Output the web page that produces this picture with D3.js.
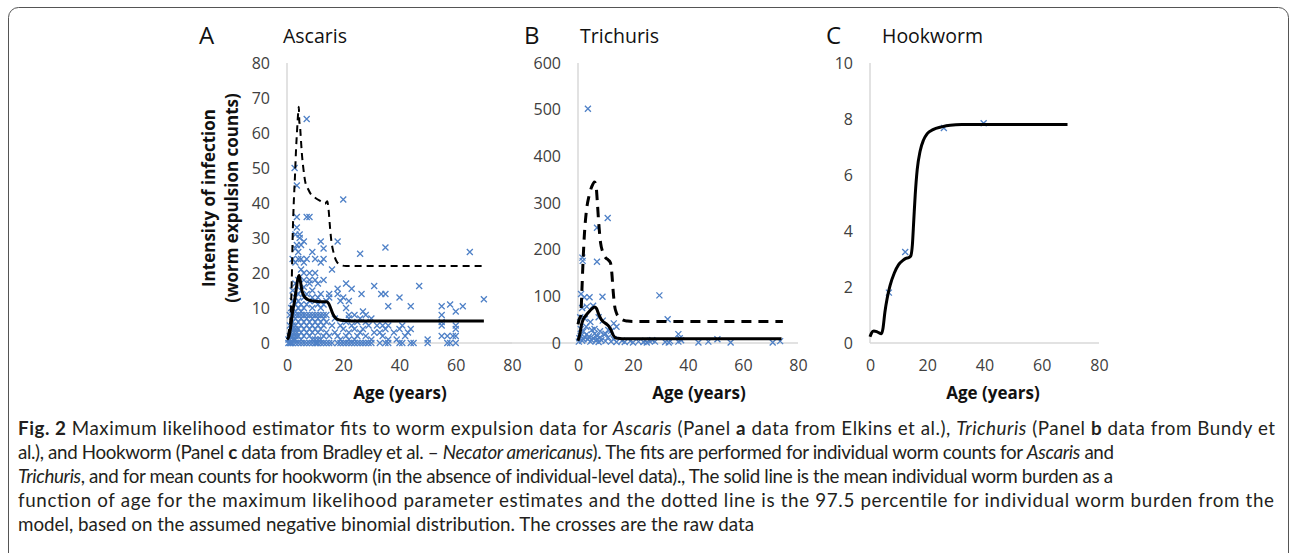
<!DOCTYPE html>
<html><head><meta charset="utf-8">
<script src="https://cdn.jsdelivr.net/npm/d3@7"></script>
<style>body{margin:0;background:#fff} svg{display:block}</style></head>
<body><svg id="c" width="1293" height="553"></svg>
<script>
// ---------- DATA ----------
const xTicks = [0, 20, 40, 60, 80];
const ascarisYTicks = [0, 10, 20, 30, 40, 50, 60, 70, 80];
const trichurisYTicks = [0, 100, 200, 300, 400, 500, 600];
const hookwormYTicks = [0, 2, 4, 6, 8, 10];

// raw data [age, worm count]
const ascarisPoints = [
 [0.5,0],[1,0],[1.5,0],[2,0],[3,0],[4,0],[5,0],[6,0],[7,0],[8,0],[9,0],[10,0],[10.5,0],[11,0],[12,0],[13,0],[14,0],[15,0],[16,0],[18,0],[19,0],[20,0],[21,0],[22,0],[23,0],[24,0],[25,0],[26,0],[27,0],[28,0],[29,0],[30,0],[33,0],[35,0],[36,0],[40,0],[41,0],[44,0],[45,0],[50,0],[57,0],[58,0],[60,0],
 [0.5,1],[1,1],[2,1],[2.5,1],[3,1],[5,1],[9,1],[10,1],[11,1],[12,1],[19,1],[22,1],[24,1],[30,1],[36,1],[39,1],[50,1],
 [1,2],[2,2],[3,2],[4,2],[6,2],[8,2],[13,2],[15,2],[18,2],[21,2],[25,2],[28,2],[34,2],[42,2],[55,2],[57,2],[59,2],[60,2],
 [1.5,3],[2.5,3],[3.5,3],[5,3],[7,3],[9,3],[11,3],[14,3],[17,3],[22,3],[26,3],[31,3],[33,3],[38,3],[43,3],
 [2,4],[3,4],[4,4],[6,4],[8,4],[10,4],[12,4],[20,4],[24,4],[27,4],[35,4],[40,4],[44,4],[60,4],
 [1,5],[2,5],[3,5],[5,5],[7,5],[9,5],[11,5],[13,5],[16,5],[19,5],[23,5],[29,5],[32,5],[34,5],[36,5],[41,5],[55,5],[60,5],
 [2,6],[4,6],[6,6],[8,6],[10,6],[12,6],[14,6],[21,6],[25,6],[28,6],[55,6],
 [3,7],[5,7],[7,7],[9,7],[11,7],[13,7],[17,7],[22,7],[26,7],[30,7],
 [1,8],[2,8],[3,8],[4,8],[5,8],[6,8],[7,8],[8,8],[9,8],[10,8],[11,8],[12,8],[13,8],[14,8],[22,8],[24,8],[28,8],[55,8],
 [3,9],[5,9],[27,9],[60,9],
 [1.5,10],[2,10],[4,10],[6,10],[9,10],[12,10],[21,10],[36,10.5],[44,10.5],[55,10.5],[62.5,10.5],
 [3,11],[5,11],[7,11],[11,11],[13,11],[58,11],
 [2,12],[4,12],[8,12],[10,12],[14,12],[19,12],[22,12],[70,12.5],
 [3,13],[6,13],[9,13],[11,13],[15,13],[20,13],[40,13],
 [4,14],[7,14],[12,14],[15,14],[18,14],[26.5,14],[33.5,14],[35,14],
 [2,15],[5,15],[9,15],[18,15.5],[23,15.5],
 [6,16],[31,16.3],[47,16.3],
 [3,17],[8,17],[11,17],[21,17],
 [4,18],[6,18],[8,18],[10,18],[13,18],
 [6,20],[8,20],[10,20],
 [5,21],[16,21],
 [3,23],[6,23],[12,23],
 [2,24],[4,24],[5,24],[7,24],[10,24],[13,24],
 [4,26],[9,26],[26,25.5],[65,26],
 [3,27],[13,27],[35,27.3],
 [3.5,28],[5,28],
 [6,29],[12,29],[18,29],
 [4.5,30],[3,31],[4.5,31],[3.5,33],
 [3.5,36],[7,36],[8,36],
 [20,41],[3.5,45],[2.7,50],[7,64]
];
const ascarisMean = [[0,1],[0.7,2],[1.3,4.5],[2,9],[2.7,12],[3.3,15.5],[3.9,18.5],[4.3,19.3],[4.8,17.5],[5.3,15],[6,13.5],[7,12.6],[8.5,12.1],[10,11.9],[12,11.8],[14,11.8],[14.8,11.3],[15.5,10],[16.3,8.3],[17.2,7.2],[18.5,6.6],[20,6.4],[23,6.3],[70,6.3]];
const ascarisP975 = [[0.3,2],[0.8,4],[1.3,8],[1.7,18],[2.0,30],[2.4,40],[2.8,47],[3.2,55],[3.6,61],[4.0,66],[4.2,67.5],[4.4,63],[4.6,62.5],[4.8,60],[5.3,54],[5.8,50],[6.5,46],[7.5,44],[8.5,42.5],[10,41.5],[12,40.5],[13.5,39.8],[14.3,40.5],[14.8,38],[15.3,33],[15.8,29],[16.5,26],[17.5,23.5],[19,22.3],[21,22],[70,22]];

const trichurisPoints = [
 [3.6,502],[10.8,268],[6.9,247],[6.9,174],[1.6,183],[1.7,176],[8.9,99],[29.6,102],[32.6,51],[1.1,105],[2.3,98],[4.2,98],
 [1.5,75],[3.2,78],[5.5,80],[0.8,55],[2.5,52],[4.5,45],[7.5,55],[9,48],[13,42],[12,26],[14,35],
 [1,30],[2,25],[3,35],[5,28],[6,20],[7,15],[8,25],[9.5,18],[11,12],[13,8],
 [0.5,10],[1.5,5],[2.5,12],[3.5,8],[4.5,3],[5.5,10],[6.5,5],[7.5,2],[8.5,6],[10,4],[12,3],[14,2],
 [16,5],[17,2],[19,4],[20,1],[22,3],[23.8,2],[24.5,5],[25,1],[26,4],[27,6],[28,3],[31.7,2],[33,1],[33.5,4],
 [36.5,19],[36.5,3],[37,10],[37.5,6],[43.8,1],[47.4,3],[50.7,8],[55.5,1],[70.8,1],[73.5,4],
 [0.3,3],[1,15],[2,8],[3,18],[4,14],[6,30],[5,6],[7,8],[8,12],[10,20],[11,28]
];
const trichurisMean = [[0,5],[0.7,20],[1.3,40],[2,52],[3,60],[4,67],[5,73],[6,77],[6.7,74],[7.5,62],[8.5,50],[9.5,44],[10.5,40],[11.3,35],[12,28],[12.7,18],[13.5,12],[14.5,10],[16,9.2],[74,9.2]];
const trichurisP975 = [[0,40],[0.5,52],[1,58],[1.4,110],[1.8,170],[2.3,230],[3,280],[4,315],[5,335],[6,345],[6.5,340],[7,305],[7.5,260],[8.2,215],[9,195],[10,183],[11,178],[11.8,172],[12.3,150],[12.8,110],[13.3,80],[14,64],[15,55],[16.5,49],[18,47],[20,46],[74.5,46]];

const hookwormPoints = [[6.6,1.8],[12.3,3.25],[25.8,7.68],[39.7,7.85]];
const hookwormMean = [[0,0.22],[0.5,0.35],[1.3,0.43],[2.5,0.4],[4,0.33],[4.5,0.5],[5.2,1.1],[6,1.6],[7,2.05],[8.5,2.5],[10,2.8],[11.5,2.95],[12.5,3.02],[13.5,3.05],[14.2,3.1],[14.8,3.5],[15.3,4.4],[15.8,5.3],[16.5,6.2],[17.5,6.85],[18.7,7.25],[20,7.48],[22,7.62],[25,7.72],[28,7.78],[32,7.8],[69,7.8]];

const panelLetters = ["A", "B", "C"];
const panelNames = ["Ascaris", "Trichuris", "Hookworm"];
const xTitle = "Age (years)";
const yTitleLines = ["Intensity of infection", "(worm expulsion counts)"];

// ---------- DRAW ----------
const svg = d3.select("#c");
const FONT = "'Open Sans', sans-serif";
const blue = "#4f81c7";

svg.append("rect").attr("x", 8.5).attr("y", 7.5).attr("width", 1280).attr("height", 570)
  .attr("rx", 10).attr("fill", "none").attr("stroke", "#555").attr("stroke-width", 1);

const panels = [
  {x0: 287, x1: 512, ymax: 80, yTicks: ascarisYTicks, pts: ascarisPoints, mean: ascarisMean, p975: ascarisP975,
   dash: "7,5", dashW: 2, lineLeft: 287, letterX: 199, nameX: 283, titleX: 400},
  {x0: 578, x1: 798, ymax: 600, yTicks: trichurisYTicks, pts: trichurisPoints, mean: trichurisMean, p975: trichurisP975,
   dash: "10,7", dashW: 3, lineLeft: 500, letterX: 524, nameX: 580, titleX: 699},
  {x0: 870, x1: 1099, ymax: 10, yTicks: hookwormYTicks, pts: hookwormPoints, mean: hookwormMean, p975: null,
   dash: null, dashW: 0, lineLeft: 870, letterX: 826, nameX: 882, titleX: 993}
];

panels.forEach((p, i) => {
  const x = d3.scaleLinear().domain([0, 80]).range([p.x0, p.x1]);
  const y = d3.scaleLinear().domain([0, p.ymax]).range([343, 63]);
  const g = svg.append("g");

  // axis lines
  g.append("line").attr("x1", x(0)).attr("x2", x(0)).attr("y1", y(p.ymax)).attr("y2", y(0))
    .attr("stroke", "#d9d9d9").attr("stroke-width", 1.5);
  g.append("line").attr("x1", p.lineLeft).attr("x2", x(80)).attr("y1", y(0)).attr("y2", y(0))
    .attr("stroke", "#d9d9d9").attr("stroke-width", 1.5);

  // tick labels
  const ax = g.append("g").attr("transform", `translate(0,${y(0)})`)
    .call(d3.axisBottom(x).tickValues(xTicks).tickSize(0).tickPadding(17));
  const ay = g.append("g").attr("transform", `translate(${x(0)},0)`)
    .call(d3.axisLeft(y).tickValues(p.yTicks).tickSize(0).tickPadding(17));
  [ax, ay].forEach(a => {
    a.select(".domain").remove();
    a.selectAll("text").attr("font-family", FONT).attr("font-size", 16).attr("fill", "#404040");
  });

  // scatter crosses
  g.append("g").selectAll("path").data(p.pts).join("path")
    .attr("transform", d => `translate(${x(d[0])},${y(d[1])})`)
    .attr("d", "M-3,-3L3,3M-3,3L3,-3")
    .attr("stroke", blue).attr("stroke-width", 1.3).attr("fill", "none");

  const line = d3.line().x(d => x(d[0])).y(d => y(d[1])).curve(d3.curveMonotoneX);
  g.append("path").datum(p.mean).attr("d", line)
    .attr("fill", "none").attr("stroke", "#000").attr("stroke-width", 3).attr("stroke-linejoin", "round");
  if (p.p975) {
    g.append("path").datum(p.p975).attr("d", line)
      .attr("fill", "none").attr("stroke", "#000").attr("stroke-width", p.dashW).attr("stroke-dasharray", p.dash);
  }

  // titles
  g.append("text").attr("x", p.letterX).attr("y", 44).text(panelLetters[i])
    .attr("font-family", FONT).attr("font-size", 24).attr("fill", "#111");
  g.append("text").attr("x", p.nameX).attr("y", 43).text(panelNames[i])
    .attr("font-family", FONT).attr("font-size", 19.5).attr("fill", "#111");
  g.append("text").attr("x", p.titleX).attr("y", 392).attr("text-anchor", "middle")
    .attr("dominant-baseline", "central").text(xTitle)
    .attr("font-family", FONT).attr("font-size", 17).attr("font-weight", "bold").attr("fill", "#111");
});

// y-axis title (panel A)
yTitleLines.forEach((t, k) => {
  svg.append("text").attr("transform", `translate(${208.5 + k * 22.5},198) rotate(-90)`)
    .attr("text-anchor", "middle").attr("dominant-baseline", "central").text(t)
    .attr("font-family", FONT).attr("font-size", 17).attr("font-weight", "bold").attr("fill", "#111");
});

// ---------- CAPTION ----------
const captionLines = [
  [["b","Fig. 2"],["n"," Maximum likelihood estimator fits to worm expulsion data for "],["i","Ascaris"],["n"," (Panel "],["b","a"],["n"," data from Elkins et al.), "],["i","Trichuris"],["n"," (Panel "],["b","b"],["n"," data from Bundy et"]],
  [["n","al.), and Hookworm (Panel "],["b","c"],["n"," data from Bradley et al. – "],["i","Necator americanus"],["n","). The fits are performed for individual worm counts for "],["i","Ascaris"],["n"," and"]],
  [["i","Trichuris"],["n",", and for mean counts for hookworm (in the absence of individual-level data)., The solid line is the mean individual worm burden as a"]],
  [["n","function of age for the maximum likelihood parameter estimates and the dotted line is the 97.5 percentile for individual worm burden from the"]],
  [["n","model, based on the assumed negative binomial distribution. The crosses are the raw data"]]
];
const captionWidths = [1257, 1096, 1095, 1256, null];
const CAPFONT = "Lato, 'Open Sans', sans-serif";
captionLines.forEach((segs, li) => {
  const t = svg.append("text").attr("x", 18).attr("y", 434.5 + li * 24)
    .attr("font-family", CAPFONT).attr("font-size", 18.8).attr("fill", "#231f20");
  segs.forEach(s => {
    const ts = t.append("tspan").text(s[1]);
    if (s[0] === "b") ts.attr("font-weight", "bold");
    if (s[0] === "i") ts.attr("font-style", "italic");
  });
  if (captionWidths[li]) t.attr("textLength", captionWidths[li]).attr("lengthAdjust", "spacing");
});
</script></body></html>
